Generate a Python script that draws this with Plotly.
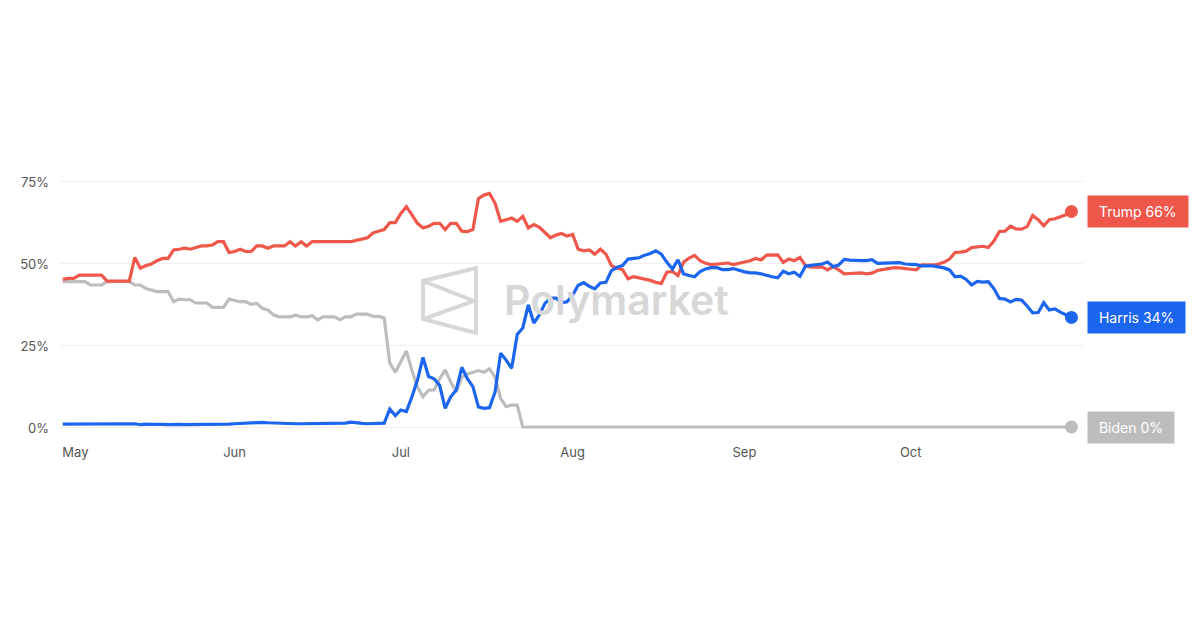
import pandas as pd
import plotly.graph_objects as go

# ---------------- data (daily, May 1 – Oct 30, 2024) ----------------
dates = pd.date_range("2024-05-01", "2024-10-30", freq="D")

trump = [
    45.3, 45.6, 45.6, 46.6, 46.6, 46.6, 46.6, 46.6, 44.8, 44.8,
    44.8, 44.8, 44.8, 52.0, 48.7, 49.5, 50.0, 51.0, 51.7, 51.7,
    54.3, 54.5, 54.8, 54.5, 55.0, 55.5, 55.5, 55.8, 56.8, 56.8,
    53.5, 53.8, 54.5, 53.8, 53.8, 55.5, 55.5, 54.8, 55.5, 55.5,
    55.5, 56.8, 55.5, 56.8, 55.5, 56.8, 56.8, 56.8, 56.8, 56.8,
    56.8, 56.8, 56.8, 57.2, 57.5, 58.0, 59.5, 59.9, 60.5, 62.6,
    62.6, 65.4, 67.5, 65.0, 62.4, 61.0, 61.5, 62.4, 62.4, 60.5,
    62.4, 62.4, 60.0, 59.9, 60.5, 70.0, 71.0, 71.5, 68.5, 63.0,
    63.5, 64.0, 63.0, 64.5, 61.0, 62.0, 61.2, 59.5, 58.0, 58.8,
    59.3, 58.5, 59.0, 54.5, 54.0, 54.3, 53.0, 54.5, 53.0, 49.5,
    48.7, 48.3, 45.5, 46.1, 45.8, 45.5, 45.0, 44.4, 44.1, 47.5,
    47.7, 46.5, 50.5, 51.8, 52.6, 51.0, 50.2, 49.8, 50.0, 50.2,
    50.3, 49.8, 50.2, 50.5, 51.0, 51.7, 51.2, 52.7, 52.8, 52.8,
    50.5, 51.5, 51.0, 52.0, 49.6, 49.0, 49.0, 49.1, 48.2, 49.2,
    48.2, 47.0, 47.1, 47.2, 47.3, 47.0, 47.2, 48.0, 48.3, 48.5,
    48.9, 48.8, 48.5, 48.4, 48.2, 49.7, 49.7, 49.7, 50.0, 50.5,
    51.5, 53.5, 53.6, 53.9, 55.0, 55.3, 55.4, 55.0, 57.0, 59.9,
    60.0, 61.5, 60.7, 60.6, 61.4, 64.8, 63.5, 61.6, 63.5, 63.8,
    64.3, 65.0, 66.0,
]

harris = [
    1.2, 1.2, 1.3, 1.2, 1.2, 1.3, 1.2, 1.2, 1.1, 1.2,
    1.2, 1.3, 1.2, 1.3, 1.0, 1.2, 1.1, 1.2, 1.1, 1.0,
    1.1, 1.1, 1.0, 1.0, 1.1, 1.2, 1.1, 1.1, 1.2, 1.2,
    1.2, 1.3, 1.4, 1.5, 1.6, 1.8, 1.7, 1.6, 1.5, 1.5,
    1.4, 1.4, 1.3, 1.3, 1.3, 1.4, 1.3, 1.3, 1.4, 1.3,
    1.3, 1.5, 1.8, 1.5, 1.4, 1.3, 1.3, 1.3, 1.5, 5.8,
    3.8, 5.5, 5.0, 9.5, 14.6, 21.5, 15.7, 15.0, 13.0, 6.0,
    9.5, 11.6, 18.5, 15.0, 12.6, 6.4, 6.0, 6.2, 11.0, 22.8,
    20.7, 18.2, 28.5, 30.5, 37.5, 32.0, 34.5, 38.0, 39.6, 39.6,
    38.2, 38.5, 40.5, 43.5, 44.3, 43.2, 42.4, 44.2, 44.4, 48.0,
    49.0, 49.5, 51.5, 51.7, 51.9, 52.7, 53.2, 54.0, 53.0, 50.5,
    48.5, 51.3, 47.0, 46.5, 46.1, 47.7, 48.5, 48.9, 48.9, 48.3,
    48.3, 48.6, 48.0, 47.6, 47.3, 47.3, 47.0, 46.5, 46.1, 45.8,
    47.8, 47.0, 47.5, 46.2, 49.3, 49.6, 49.7, 50.0, 50.6, 49.2,
    49.7, 51.4, 51.2, 51.0, 51.0, 51.0, 51.3, 50.2, 50.2, 50.2,
    50.4, 50.4, 50.0, 49.9, 49.8, 49.4, 49.5, 49.4, 49.1, 48.8,
    48.2, 46.1, 46.3, 45.3, 43.6, 44.7, 44.5, 44.6, 42.5, 39.5,
    39.3, 38.4, 39.2, 39.0, 37.2, 35.1, 35.2, 38.2, 36.0, 36.3,
    35.3, 34.5, 33.7,
]

# Biden: daily until he left the race, then flat at ~0 to the end
biden_dates = list(dates[:86]) + [pd.Timestamp("2024-10-30")]
biden = [
    44.6, 44.6, 44.6, 44.6, 44.6, 43.6, 43.6, 43.6, 44.6, 44.6,
    44.6, 44.6, 44.6, 43.6, 43.6, 42.5, 42.1, 41.6, 41.6, 41.6,
    38.5, 39.3, 39.1, 39.1, 38.1, 38.1, 38.1, 36.8, 36.8, 36.8,
    39.3, 39.0, 38.5, 38.5, 37.7, 38.0, 36.5, 36.0, 34.5, 33.9,
    33.9, 33.9, 34.4, 33.9, 33.9, 34.2, 33.0, 33.9, 33.9, 33.9,
    33.0, 33.9, 33.9, 34.7, 34.7, 34.7, 34.0, 34.0, 33.5, 19.8,
    17.0, 20.5, 23.5, 17.5, 12.5, 9.5, 11.5, 11.6, 15.0, 17.7,
    14.0, 11.0, 15.5, 16.5, 17.0, 17.5, 17.0, 18.0, 15.5, 9.0,
    6.5, 7.0, 7.0, 0.3, 0.3, 0.3, 0.3,
]

names = ["Biden", "Trump", "Harris"]
colors = {"Trump": "#F0574B", "Harris": "#1C65EE", "Biden": "#BDBDBD"}
month_ticks = ["2024-05-01", "2024-06-01", "2024-07-01", "2024-08-01", "2024-09-01", "2024-10-01"]
month_text = ["\u2007\u2007\u2007May", "Jun", "Jul", "Aug", "Sep", "Oct"]
y_ticks = [0, 25, 50, 75]
y_text = ["0%", "25%", "50%", "75%"]

series = {
    "Biden": (biden_dates, biden),
    "Trump": (list(dates), trump),
    "Harris": (list(dates), harris),
}

FONT = "Inter, 'Open Sans', sans-serif"

fig = go.Figure()
for n in names:
    xs, ys = series[n]
    fig.add_trace(go.Scatter(
        x=xs, y=ys, mode="lines", name=n,
        line=dict(color=colors[n], width=3.2), hoverinfo="skip",
    ))
for n in names:
    xs, ys = series[n]
    fig.add_trace(go.Scatter(
        x=[xs[-1]], y=[ys[-1]], mode="markers",
        marker=dict(color=colors[n], size=13), hoverinfo="skip",
    ))

annotations = []
for n in names:
    xs, ys = series[n]
    annotations.append(dict(
        x=xs[-1], y=ys[-1], xref="x", yref="y",
        text=f"\u00a0{n} {round(ys[-1])}%\u00a0",
        showarrow=False, xanchor="left", yanchor="middle", xshift=16,
        bgcolor=colors[n], borderpad=7,
        font=dict(family=FONT, size=14, color="white"),
    ))

# Polymarket watermark text
annotations.append(dict(
    x=(616 - 60) / 1023, y=(440 - 300) / 280, xref="paper", yref="paper",
    text="Polymarket", showarrow=False, xanchor="center", yanchor="middle",
    font=dict(family=FONT, size=41, color="#D7D7D7", weight=600),
))

def px(xp, yp):
    return f"{(xp - 60) / 1023:.4f},{(440 - yp) / 280:.4f}"

logo_path = (
    f"M {px(423, 281)} L {px(476, 268)} L {px(476, 333)} L {px(423, 319)} Z "
    f"M {px(423, 281)} L {px(474, 301)} L {px(423, 319)}"
)
shapes = [dict(
    type="path", xref="paper", yref="paper", path=logo_path,
    line=dict(color="#D7D7D7", width=4), layer="below",
)]

fig.update_layout(
    width=1200, height=630,
    margin=dict(l=52, r=125, t=152, b=198),
    paper_bgcolor="white", plot_bgcolor="white",
    showlegend=False,
    font=dict(family=FONT, size=13, color="#555555"),
    annotations=annotations,
    shapes=shapes,
    xaxis=dict(
        type="date",
        range=["2024-04-30 12:00", "2024-11-01 02:00"],
        tickvals=month_ticks, ticktext=month_text,
        showgrid=False, zeroline=False, showline=False, ticks="",
        ticklabelstandoff=3,
        tickfont=dict(size=13, color="#555555"),
    ),
    yaxis=dict(
        range=[-3.66, 81.7],
        tickvals=y_ticks, ticktext=y_text,
        showgrid=True, gridcolor="#EFEFEF", gridwidth=1,
        zeroline=False, showline=False, ticks="",
        ticklabelstandoff=10,
        tickfont=dict(size=13, color="#555555"),
    ),
)

fig.write_html("out.html")
